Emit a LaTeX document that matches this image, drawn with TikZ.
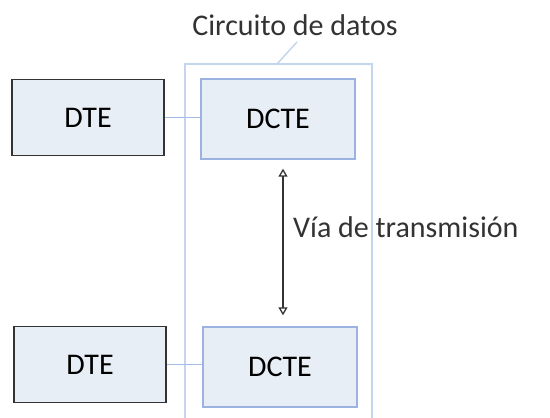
\documentclass[tikz,border=0pt]{standalone}
\usepackage{fontspec}
\setmainfont{Carlito}
\usetikzlibrary{arrows.meta}
\definecolor{boxfill}{HTML}{E7EEF6}
\definecolor{dcteline}{HTML}{9CB3E2}
\definecolor{frameline}{HTML}{C4D6EF}
\definecolor{linkline}{HTML}{A6BCE8}
\definecolor{darkline}{HTML}{333333}
\tikzset{
  dtebox/.style={draw=darkline, line width=1.5pt, fill=boxfill, minimum width=152pt, minimum height=76pt, inner sep=0pt, font=\fontsize{30}{34}\selectfont},
  dctebox/.style={draw=dcteline, line width=1.4pt, fill=boxfill, minimum width=154pt, minimum height=80pt, inner sep=0pt, font=\fontsize{30}{34}\selectfont},
  link/.style={draw=linkline, line width=1.5pt},
  lbl/.style={font=\fontsize{30}{34}\selectfont, inner sep=0pt, text=darkline},
}
\begin{document}
\begin{tikzpicture}[x=1pt,y=-1pt]
\useasboundingbox (0,0) rectangle (550,418);
% container
\draw[frameline, line width=1.5pt] (185,420) -- (185,64) -- (372,64) -- (372,420);
\coordinate (lead) at (277,64);
\node[lbl, anchor=base] (title) at (295,35) {Circuito de datos};
\draw[frameline, line width=1.5pt] (lead) -- (297,42);
% boxes
\node[dtebox] (dte1) at (88,117.5) {DTE};
\node[dctebox] (dcte1) at (278,119) {DCTE};
\node[dtebox] (dte2) at (90,364.5) {DTE};
\node[dctebox] (dcte2) at (280,367) {DCTE};
% links
\draw[link] (dte1.east) -- (dte1.east -| dcte1.west);
\draw[link] (dte2.east) -- (dte2.east -| dcte2.west);
% transmission path
\coordinate (ax) at (283,0);
\draw[darkline, line width=1.3pt, {Triangle[open,length=8pt,width=9pt]}-{Triangle[open,length=8pt,width=9pt]}]
  ([yshift=-9pt]dcte1.south -| ax) -- ([yshift=11pt]dcte2.north -| ax);
\node[lbl, anchor=base west] (via) at (293,237) {Vía de transmisión};
\end{tikzpicture}
\end{document}
